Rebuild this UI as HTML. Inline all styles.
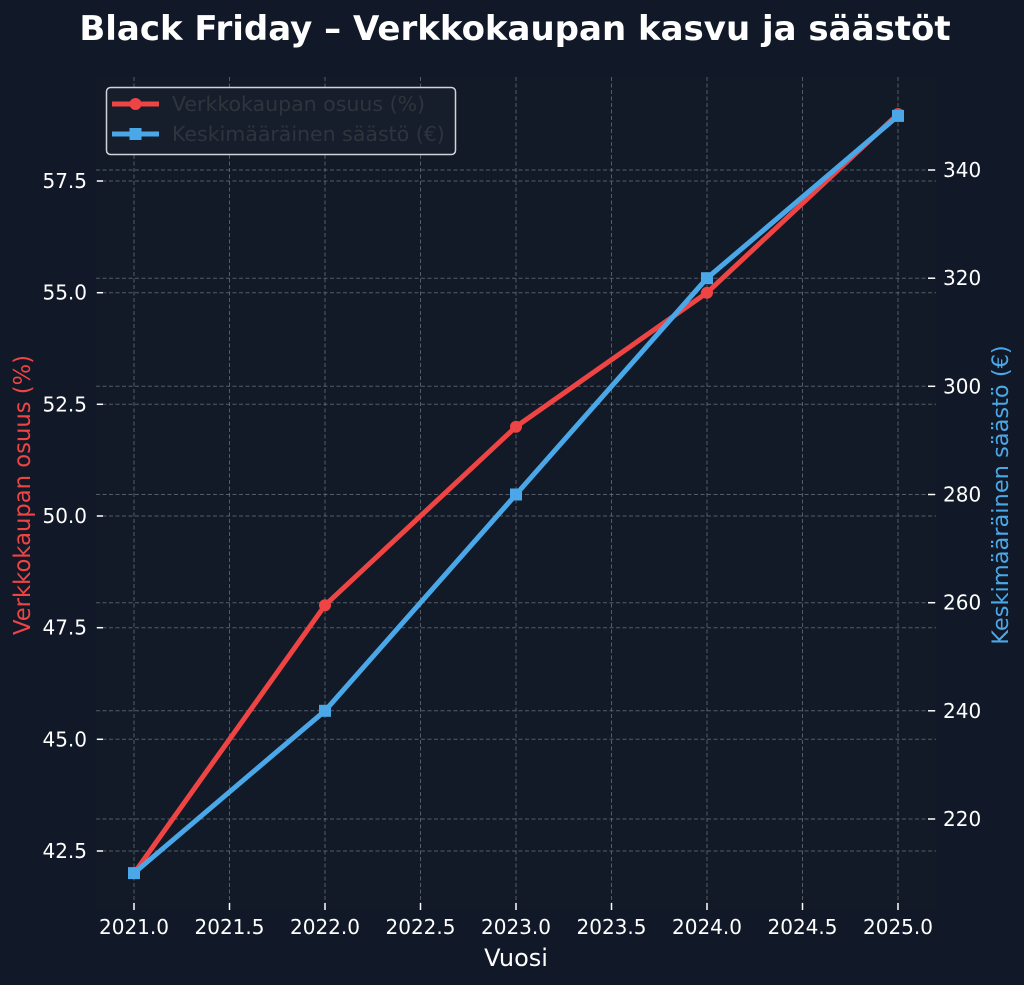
<!DOCTYPE html>
<html><head><meta charset="utf-8"><style>
html,body{margin:0;padding:0;background:#111827;}
svg{display:block;}
text{font-family:"DejaVu Sans","Liberation Sans",sans-serif;}
</style></head><body>
<svg width="1024" height="985" viewBox="0 0 1024 985" xmlns="http://www.w3.org/2000/svg">
<rect x="0" y="0" width="1024" height="985" fill="#111827"/>
<rect x="96" y="77" width="840" height="833" fill="#121a27"/>
<text x="515" y="40" text-anchor="middle" font-size="34" font-weight="bold" fill="#ffffff">Black Friday – Verkkokaupan kasvu ja säästöt</text>
<g stroke="#6b7280" stroke-opacity="0.75" stroke-width="1" stroke-dasharray="4,2.5" fill="none">
<line x1="134" y1="77" x2="134" y2="910"/>
<line x1="229.5" y1="77" x2="229.5" y2="910"/>
<line x1="325" y1="77" x2="325" y2="910"/>
<line x1="420.5" y1="77" x2="420.5" y2="910"/>
<line x1="516" y1="77" x2="516" y2="910"/>
<line x1="611.5" y1="77" x2="611.5" y2="910"/>
<line x1="707" y1="77" x2="707" y2="910"/>
<line x1="802.5" y1="77" x2="802.5" y2="910"/>
<line x1="898" y1="77" x2="898" y2="910"/>
<line x1="96" y1="851" x2="936" y2="851"/>
<line x1="96" y1="739.3" x2="936" y2="739.3"/>
<line x1="96" y1="627.7" x2="936" y2="627.7"/>
<line x1="96" y1="516" x2="936" y2="516"/>
<line x1="96" y1="404.3" x2="936" y2="404.3"/>
<line x1="96" y1="292.7" x2="936" y2="292.7"/>
<line x1="96" y1="181" x2="936" y2="181"/>
<line x1="96" y1="819" x2="936" y2="819"/>
<line x1="96" y1="710.8" x2="936" y2="710.8"/>
<line x1="96" y1="602.7" x2="936" y2="602.7"/>
<line x1="96" y1="494.5" x2="936" y2="494.5"/>
<line x1="96" y1="386.3" x2="936" y2="386.3"/>
<line x1="96" y1="278.2" x2="936" y2="278.2"/>
<line x1="96" y1="170" x2="936" y2="170"/>
</g>
<g stroke="#ffffff" stroke-width="1.5">
<line x1="97" y1="851" x2="103" y2="851"/>
<line x1="97" y1="739.3" x2="103" y2="739.3"/>
<line x1="97" y1="627.7" x2="103" y2="627.7"/>
<line x1="97" y1="516" x2="103" y2="516"/>
<line x1="97" y1="404.3" x2="103" y2="404.3"/>
<line x1="97" y1="292.7" x2="103" y2="292.7"/>
<line x1="97" y1="181" x2="103" y2="181"/>
<line x1="928" y1="819" x2="935" y2="819"/>
<line x1="928" y1="710.8" x2="935" y2="710.8"/>
<line x1="928" y1="602.7" x2="935" y2="602.7"/>
<line x1="928" y1="494.5" x2="935" y2="494.5"/>
<line x1="928" y1="386.3" x2="935" y2="386.3"/>
<line x1="928" y1="278.2" x2="935" y2="278.2"/>
<line x1="928" y1="170" x2="935" y2="170"/>
<line x1="134" y1="903" x2="134" y2="910"/>
<line x1="229.5" y1="903" x2="229.5" y2="910"/>
<line x1="325" y1="903" x2="325" y2="910"/>
<line x1="420.5" y1="903" x2="420.5" y2="910"/>
<line x1="516" y1="903" x2="516" y2="910"/>
<line x1="611.5" y1="903" x2="611.5" y2="910"/>
<line x1="707" y1="903" x2="707" y2="910"/>
<line x1="802.5" y1="903" x2="802.5" y2="910"/>
<line x1="898" y1="903" x2="898" y2="910"/>
</g>
<g font-size="20" fill="#ffffff" text-anchor="end">
<text x="87" y="858">42.5</text>
<text x="87" y="746.3">45.0</text>
<text x="87" y="634.7">47.5</text>
<text x="87" y="523">50.0</text>
<text x="87" y="411.3">52.5</text>
<text x="87" y="299.7">55.0</text>
<text x="87" y="188">57.5</text>
</g>
<g font-size="20" fill="#ffffff" text-anchor="start">
<text x="943" y="826">220</text>
<text x="943" y="717.8">240</text>
<text x="943" y="609.7">260</text>
<text x="943" y="501.5">280</text>
<text x="943" y="393.3">300</text>
<text x="943" y="285.2">320</text>
<text x="943" y="177">340</text>
</g>
<g font-size="20" fill="#ffffff" text-anchor="middle">
<text x="134" y="934">2021.0</text>
<text x="229.5" y="934">2021.5</text>
<text x="325" y="934">2022.0</text>
<text x="420.5" y="934">2022.5</text>
<text x="516" y="934">2023.0</text>
<text x="611.5" y="934">2023.5</text>
<text x="707" y="934">2024.0</text>
<text x="802.5" y="934">2024.5</text>
<text x="898" y="934">2025.0</text>
</g>
<text x="516" y="966" text-anchor="middle" font-size="24" fill="#ffffff">Vuosi</text>
<text transform="translate(30,495) rotate(-90)" text-anchor="middle" font-size="22.7" fill="#ef4444">Verkkokaupan osuus (%)</text>
<text transform="translate(1008,495) rotate(-90)" text-anchor="middle" font-size="22.5" fill="#4aa8e8">Keskimääräinen säästö (€)</text>
<polyline points="134,873.3 325,605.3 516,426.7 707,292.7 898,114" fill="none" stroke="#ef4444" stroke-width="5" stroke-linejoin="round"/>
<g fill="#ef4444">
<circle cx="134" cy="873.3" r="6"/><circle cx="325" cy="605.3" r="6"/><circle cx="516" cy="426.7" r="6"/><circle cx="707" cy="292.7" r="6"/><circle cx="898" cy="114" r="6"/>
</g>
<polyline points="134,873.1 325,710.8 516,494.5 707,278.2 898,115.9" fill="none" stroke="#4aa8e8" stroke-width="5" stroke-linejoin="round"/>
<g fill="#4aa8e8">
<rect x="128" y="867.1" width="12" height="12"/><rect x="319" y="704.8" width="12" height="12"/><rect x="510" y="488.5" width="12" height="12"/><rect x="701" y="272.2" width="12" height="12"/><rect x="892" y="109.9" width="12" height="12"/>
</g>
<rect x="106.5" y="87.5" width="349" height="67" rx="4" fill="#171e2b" stroke="#cfd3da" stroke-width="1.5"/>
<line x1="112" y1="104" x2="159" y2="104" stroke="#ef4444" stroke-width="5"/>
<circle cx="135.5" cy="104" r="6" fill="#ef4444"/>
<line x1="112" y1="134" x2="159" y2="134" stroke="#4aa8e8" stroke-width="5"/>
<rect x="129.5" y="128" width="12" height="12" fill="#4aa8e8"/>
<text x="172" y="111" font-size="20.5" fill="#2f343d">Verkkokaupan osuus (%)</text>
<text x="172" y="141" font-size="20.5" fill="#2f343d">Keskimääräinen säästö (€)</text>
</svg>
</body></html>
